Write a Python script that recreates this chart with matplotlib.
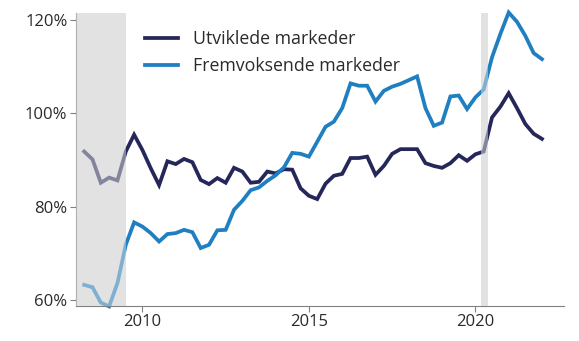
import numpy as np
import matplotlib
matplotlib.use("Agg")
import matplotlib.pyplot as plt

plt.rcParams['font.family'] = ['Open Sans', 'DejaVu Sans']

# quarterly observations, first one at 2008.25
start_year = 2008.25
utviklede = [91.8, 90.1, 85.1, 86.2, 85.6, 91.8, 95.4, 92.1, 88.2, 84.6,
             89.7, 89.1, 90.2, 89.5, 85.7, 84.8, 86.1, 85.1, 88.3, 87.5,
             85.1, 85.3, 87.5, 87.1, 88.0, 87.9, 83.9, 82.3, 81.6, 84.9,
             86.6, 87.0, 90.4, 90.4, 90.7, 86.8, 88.7, 91.3, 92.3, 92.3,
             92.3, 89.3, 88.7, 88.3, 89.3, 91.0, 89.8, 91.2, 91.8, 99.1,
             101.4, 104.3, 101.1, 97.7, 95.6, 94.5]
fremvoksende = [63.2, 62.7, 59.4, 58.6, 63.6, 71.8, 76.6, 75.7, 74.3, 72.5,
                74.1, 74.3, 75.0, 74.5, 71.1, 71.8, 74.9, 75.0, 79.3, 81.2,
                83.5, 84.1, 85.5, 86.7, 88.4, 91.5, 91.3, 90.7, 93.9, 97.1,
                98.2, 101.1, 106.4, 105.9, 105.9, 102.5, 104.8, 105.7, 106.3, 107.1,
                107.9, 101.1, 97.3, 98.0, 103.6, 103.8, 100.9, 103.4, 105.1, 112.0,
                117.0, 121.6, 119.6, 116.6, 112.9, 111.6]
labels = ['Utviklede markeder', 'Fremvoksende markeder']
shaded = [(2008.0, 2009.5), (2020.18, 2020.37)]
xticks = [2010, 2015, 2020]
yticks = [60, 80, 100, 120]

c_dark = '#25275a'
c_light = '#1f7fc0'
c_shade = '#e2e2e2'

x = start_year + 0.25*np.arange(len(utviklede))

fig = plt.figure(figsize=(5.79, 3.41), dpi=100)
ax = fig.add_axes([0.131, 0.103, 0.843, 0.859])

for a, b in shaded:
  ax.axvspan(a, b, color=c_shade, lw=0, zorder=0)
ax.plot(x, utviklede, color=c_dark, lw=2.7, label=labels[0], zorder=2, clip_on=False,
        solid_joinstyle='miter')
ax.plot(x, fremvoksende, color=c_light, lw=2.7, label=labels[1], zorder=2, clip_on=False,
        solid_joinstyle='miter')
# lines look washed out inside shaded periods
for a, b in shaded:
  ax.axvspan(a, b, color=c_shade, alpha=0.5, lw=0, zorder=3)

ax.set_xlim(2008.0, 2022.66)
ax.set_ylim(58.7, 121.5)
ax.set_xticks(xticks)
ax.set_yticks(yticks)
ax.set_yticklabels(['%d%%' % v for v in yticks])

for s in ['top', 'right']:
  ax.spines[s].set_visible(False)
for s in ['left', 'bottom']:
  ax.spines[s].set_color('#808080')
  ax.spines[s].set_linewidth(0.8)
ax.tick_params(axis='both', length=4, width=0.8, color='#808080', labelsize=12,
               labelcolor='#2a2a2a', pad=2)

leg = ax.legend(loc='upper left', bbox_to_anchor=(0.141, 0.941), frameon=False,
                fontsize=12.8, handlelength=1.85, handletextpad=0.85, labelspacing=0.49,
                borderpad=0, borderaxespad=0)
for t in leg.get_texts():
  t.set_color('#2a2a2a')

fig.savefig('out.png', dpi=100)
